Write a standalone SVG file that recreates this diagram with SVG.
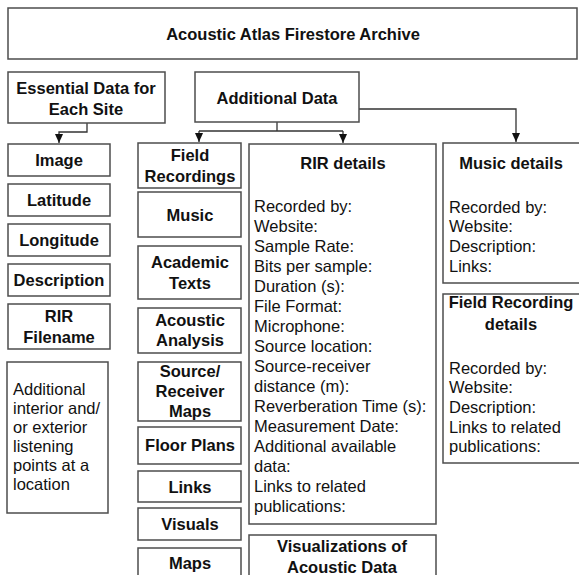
<svg xmlns="http://www.w3.org/2000/svg" width="579" height="575" viewBox="0 0 579 575">
<style>
.box{fill:#fff;stroke:#4d4d4d;stroke-width:1.5}
.b{font-family:"Liberation Sans",Arial,sans-serif;font-size:16.5px;font-weight:bold;fill:#111;text-anchor:middle}
.t{font-family:"Liberation Sans",Arial,sans-serif;font-size:16.5px;fill:#111}
.c{fill:none;stroke:#333;stroke-width:1.3}
</style>
<defs>
<marker id="arr" viewBox="0 0 9 8" refX="9" refY="4" markerWidth="9" markerHeight="8" markerUnits="userSpaceOnUse" orient="auto">
<path d="M0,0 L9,4 L0,8 Z" fill="#111"/>
</marker>
</defs>
<rect width="579" height="575" fill="#fff"/>
<g id="connectors">
<path class="c" d="M87,123 V132 H59 V143" marker-end="url(#arr)"/>
<path class="c" d="M277,122 V131"/>
<path class="c" d="M199,131 H343"/>
<path class="c" d="M199,131 V142" marker-end="url(#arr)"/>
<path class="c" d="M343,131 V143" marker-end="url(#arr)"/>
<path class="c" d="M359,109 H516 V142" marker-end="url(#arr)"/>
</g>
<g id="archive"><rect class="box" x="8" y="8" width="569" height="51"/><text class="b" x="293" y="40">Acoustic Atlas Firestore Archive</text></g>
<g id="essential"><rect class="box" x="8" y="72" width="157" height="51"/><text class="b" x="86" y="94">Essential Data for</text><text class="b" x="86" y="115">Each Site</text></g>
<g id="additional"><rect class="box" x="195" y="72" width="164" height="50"/><text class="b" x="277" y="104">Additional Data</text></g>
<g id="image"><rect class="box" x="8" y="144" width="102" height="32"/><text class="b" x="59" y="166">Image</text></g>
<g id="latitude"><rect class="box" x="8" y="184" width="102" height="32"/><text class="b" x="59" y="206">Latitude</text></g>
<g id="longitude"><rect class="box" x="8" y="224" width="102" height="32"/><text class="b" x="59" y="246">Longitude</text></g>
<g id="description"><rect class="box" x="8" y="264" width="102" height="32"/><text class="b" x="59" y="286">Description</text></g>
<g id="rirfilename"><rect class="box" x="8" y="304" width="102" height="45"/><text class="b" x="59" y="322">RIR</text><text class="b" x="59" y="343">Filename</text></g>
<g id="listening"><rect class="box" x="7" y="362" width="101" height="151"/>
<text class="t" x="13" y="395">Additional</text><text class="t" x="13" y="414">interior and/</text><text class="t" x="13" y="433">or exterior</text><text class="t" x="13" y="452">listening</text><text class="t" x="13" y="471">points at a</text><text class="t" x="13" y="490">location</text></g>
<g id="fieldrec"><rect class="box" x="138" y="143" width="103" height="45"/><text class="b" x="190" y="161">Field</text><text class="b" x="190" y="182">Recordings</text></g>
<g id="music"><rect class="box" x="138" y="192" width="103" height="45"/><text class="b" x="190" y="221">Music</text></g>
<g id="academic"><rect class="box" x="138" y="246" width="103" height="53"/><text class="b" x="190" y="268">Academic</text><text class="b" x="190" y="289">Texts</text></g>
<g id="analysis"><rect class="box" x="138" y="308" width="103" height="45"/><text class="b" x="190" y="326">Acoustic</text><text class="b" x="190" y="346">Analysis</text></g>
<g id="srmaps"><rect class="box" x="138" y="362" width="103" height="59"/><text class="b" x="190" y="377">Source/</text><text class="b" x="190" y="397">Receiver</text><text class="b" x="190" y="417">Maps</text></g>
<g id="floorplans"><rect class="box" x="138" y="427" width="103" height="37"/><text class="b" x="190" y="451">Floor Plans</text></g>
<g id="links"><rect class="box" x="138" y="471" width="103" height="31"/><text class="b" x="190" y="493">Links</text></g>
<g id="visuals"><rect class="box" x="138" y="508" width="103" height="32"/><text class="b" x="190" y="530">Visuals</text></g>
<g id="maps"><rect class="box" x="138" y="548" width="103" height="40"/><text class="b" x="190" y="569">Maps</text></g>
<g id="rirdetails"><rect class="box" x="249" y="144" width="187" height="380"/>
<text class="b" x="343" y="169">RIR details</text>
<text class="t" x="254" y="212">Recorded by:</text>
<text class="t" x="254" y="232">Website:</text>
<text class="t" x="254" y="252">Sample Rate:</text>
<text class="t" x="254" y="272">Bits per sample:</text>
<text class="t" x="254" y="292">Duration (s):</text>
<text class="t" x="254" y="312">File Format:</text>
<text class="t" x="254" y="332">Microphone:</text>
<text class="t" x="254" y="352">Source location:</text>
<text class="t" x="254" y="372">Source-receiver</text>
<text class="t" x="254" y="392">distance (m):</text>
<text class="t" x="254" y="412">Reverberation Time (s):</text>
<text class="t" x="254" y="432">Measurement Date:</text>
<text class="t" x="254" y="452">Additional available</text>
<text class="t" x="254" y="472">data:</text>
<text class="t" x="254" y="492">Links to related</text>
<text class="t" x="254" y="512">publications:</text>
</g>
<g id="visualizations"><rect class="box" x="249" y="535" width="187" height="50"/><text class="b" x="342" y="552">Visualizations of</text><text class="b" x="342" y="573">Acoustic Data</text></g>
<g id="musicdetails"><rect class="box" x="443" y="143" width="140" height="140"/>
<text class="b" x="511" y="169">Music details</text>
<text class="t" x="449" y="213">Recorded by:</text>
<text class="t" x="449" y="232">Website:</text>
<text class="t" x="449" y="252">Description:</text>
<text class="t" x="449" y="272">Links:</text>
</g>
<g id="fielddetails"><rect class="box" x="443" y="294" width="140" height="169"/>
<text class="b" x="511" y="308">Field Recording</text>
<text class="b" x="511" y="330">details</text>
<text class="t" x="449" y="374">Recorded by:</text>
<text class="t" x="449" y="393">Website:</text>
<text class="t" x="449" y="413">Description:</text>
<text class="t" x="449" y="433">Links to related</text>
<text class="t" x="449" y="452">publications:</text>
</g>
</svg>
